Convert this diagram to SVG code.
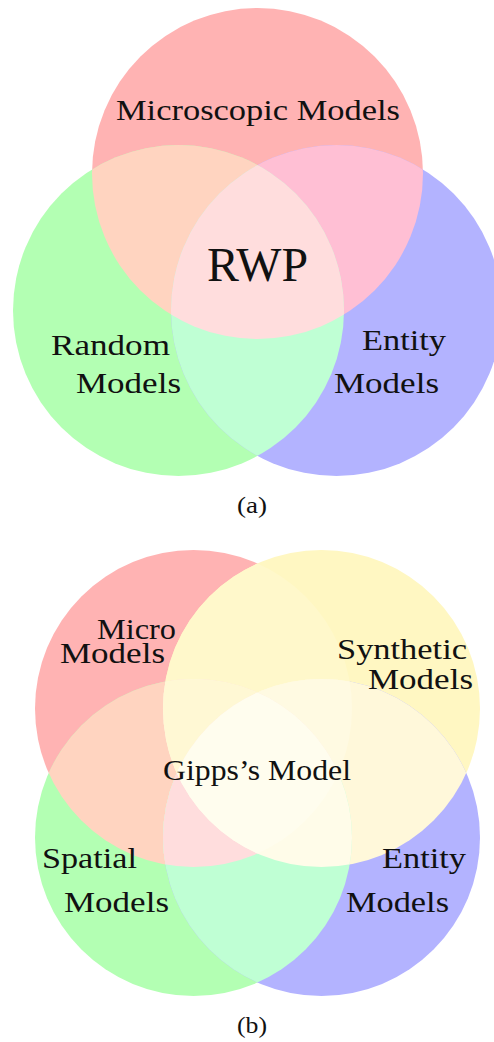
<svg xmlns="http://www.w3.org/2000/svg" width="494" height="1042" viewBox="0 0 494 1042">
<style>
text{font-family:"Liberation Serif","DejaVu Serif",serif;fill:#111;}
.lbl{font-size:30px;}
.big{font-size:48px;}
.cap{font-size:24px;}
</style>
<defs>
<clipPath id="aR"><circle cx="257.5" cy="173.5" r="165.5"/></clipPath>
<clipPath id="aG"><circle cx="178.5" cy="310.5" r="165.5"/></clipPath>
<clipPath id="aB"><circle cx="336.5" cy="310.5" r="165.5"/></clipPath>
<clipPath id="bR"><circle cx="193.5" cy="708.5" r="158.5"/></clipPath>
<clipPath id="bY"><circle cx="321.5" cy="708.5" r="158.5"/></clipPath>
<clipPath id="bG"><circle cx="193.5" cy="837.5" r="158.5"/></clipPath>
<clipPath id="bB"><circle cx="321.5" cy="837.5" r="158.5"/></clipPath>
</defs>

<!-- (a) -->
<g id="a-sets">
<g id="set-a-micro"><circle cx="257.5" cy="173.5" r="165.5" fill="#FFB3B3"/></g>
<g id="set-a-random"><circle cx="178.5" cy="310.5" r="165.5" fill="#B3FFB3"/></g>
<g id="set-a-entity"><circle cx="336.5" cy="310.5" r="165.5" fill="#B3B3FF"/></g>
</g>
<g id="a-overlaps">
<circle cx="257.5" cy="173.5" r="165.5" fill="#FFD4C0" clip-path="url(#aG)"/>
<circle cx="257.5" cy="173.5" r="165.5" fill="#FFBFD4" clip-path="url(#aB)"/>
<circle cx="178.5" cy="310.5" r="165.5" fill="#BFFFD4" clip-path="url(#aB)"/>
<g clip-path="url(#aB)"><circle cx="257.5" cy="173.5" r="165.5" fill="#FFDDDD" clip-path="url(#aG)"/></g>
</g>
<g id="a-labels">
<g id="lbl-a-micro"><text class="lbl" x="116" y="120" textLength="284" lengthAdjust="spacingAndGlyphs">Microscopic Models</text></g>
<g id="lbl-a-rwp"><text class="big" x="207" y="281" textLength="101" lengthAdjust="spacingAndGlyphs">RWP</text></g>
<g id="lbl-a-random"><text class="lbl" x="51" y="355" textLength="119" lengthAdjust="spacingAndGlyphs">Random</text>
<text class="lbl" x="76" y="393" textLength="105" lengthAdjust="spacingAndGlyphs">Models</text></g>
<g id="lbl-a-entity"><text class="lbl" x="362" y="350" textLength="84" lengthAdjust="spacingAndGlyphs">Entity</text>
<text class="lbl" x="334" y="393" textLength="105" lengthAdjust="spacingAndGlyphs">Models</text></g>
<g id="cap-a"><text class="cap" x="237" y="513" textLength="30" lengthAdjust="spacingAndGlyphs">(a)</text></g>
</g>

<!-- (b) -->
<g id="b-sets">
<g id="set-b-micro"><circle cx="193.5" cy="708.5" r="158.5" fill="#FFB3B3"/></g>
<g id="set-b-synthetic"><circle cx="321.5" cy="708.5" r="158.5" fill="#FFF7C2"/></g>
<g id="set-b-spatial"><circle cx="193.5" cy="837.5" r="158.5" fill="#B3FFB3"/></g>
<g id="set-b-entity"><circle cx="321.5" cy="837.5" r="158.5" fill="#B3B3FF"/></g>
</g>
<g id="b-overlaps">
<circle cx="193.5" cy="708.5" r="158.5" fill="#FFF8CB" clip-path="url(#bY)"/>
<circle cx="193.5" cy="708.5" r="158.5" fill="#FFD4C0" clip-path="url(#bG)"/>
<circle cx="193.5" cy="708.5" r="158.5" fill="#FFFBE6" clip-path="url(#bB)"/>
<circle cx="321.5" cy="708.5" r="158.5" fill="#FFFBE6" clip-path="url(#bG)"/>
<circle cx="321.5" cy="708.5" r="158.5" fill="#FFF8DA" clip-path="url(#bB)"/>
<circle cx="193.5" cy="837.5" r="158.5" fill="#BFFFD4" clip-path="url(#bB)"/>
<g clip-path="url(#bG)"><circle cx="193.5" cy="708.5" r="158.5" fill="#FFF8D4" clip-path="url(#bY)"/></g>
<g clip-path="url(#bB)"><circle cx="193.5" cy="708.5" r="158.5" fill="#FFFAE2" clip-path="url(#bY)"/></g>
<g clip-path="url(#bB)"><circle cx="193.5" cy="708.5" r="158.5" fill="#FFDDDD" clip-path="url(#bG)"/></g>
<g clip-path="url(#bB)"><circle cx="321.5" cy="708.5" r="158.5" fill="#FFFCE9" clip-path="url(#bG)"/></g>
<g clip-path="url(#bB)"><g clip-path="url(#bG)"><circle cx="193.5" cy="708.5" r="158.5" fill="#FFFDEE" clip-path="url(#bY)"/></g></g>
</g>
<g id="b-labels">
<g id="lbl-b-micro"><text class="lbl" x="97" y="639" textLength="79" lengthAdjust="spacingAndGlyphs">Micro</text>
<text class="lbl" x="60" y="663" textLength="105" lengthAdjust="spacingAndGlyphs">Models</text></g>
<g id="lbl-b-synthetic"><text class="lbl" x="337" y="659" textLength="130" lengthAdjust="spacingAndGlyphs">Synthetic</text>
<text class="lbl" x="368" y="689" textLength="105" lengthAdjust="spacingAndGlyphs">Models</text></g>
<g id="lbl-b-gipps"><text class="lbl" x="163" y="780" textLength="188" lengthAdjust="spacingAndGlyphs">Gipps’s Model</text></g>
<g id="lbl-b-spatial"><text class="lbl" x="42" y="868" textLength="95" lengthAdjust="spacingAndGlyphs">Spatial</text>
<text class="lbl" x="64" y="912" textLength="105" lengthAdjust="spacingAndGlyphs">Models</text></g>
<g id="lbl-b-entity"><text class="lbl" x="382" y="868" textLength="84" lengthAdjust="spacingAndGlyphs">Entity</text>
<text class="lbl" x="346" y="912" textLength="103" lengthAdjust="spacingAndGlyphs">Models</text></g>
<g id="cap-b"><text class="cap" x="237" y="1033" textLength="30" lengthAdjust="spacingAndGlyphs">(b)</text></g>
</g>
</svg>
